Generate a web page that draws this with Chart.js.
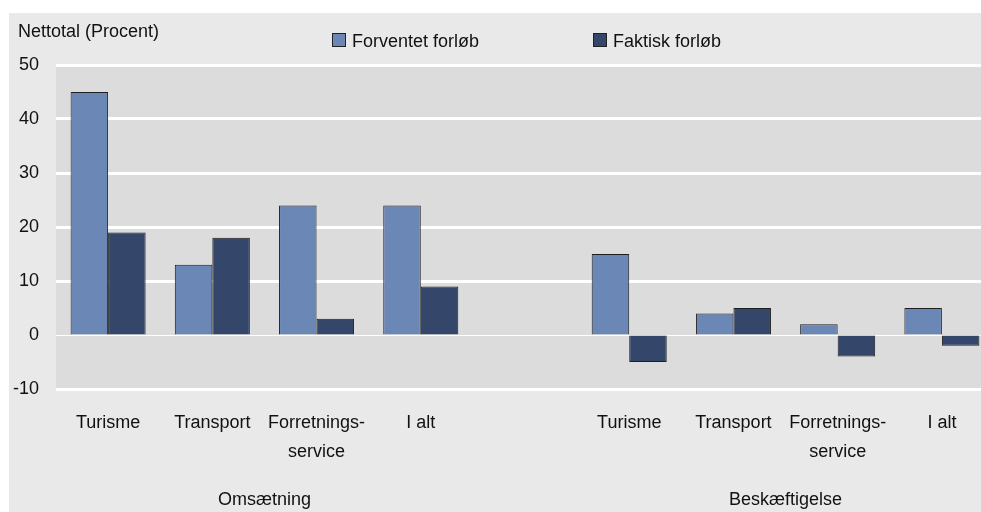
<!DOCTYPE html>
<html>
<head>
<meta charset="utf-8">
<script src="https://cdn.jsdelivr.net/npm/chart.js@4"></script>
<style>
  html, body { margin: 0; padding: 0; background: #fff; overflow: hidden; }
  #wrap { position: absolute; left: 0; top: 0; width: 1000px; height: 512px; }
</style>
</head>
<body>
<div id="wrap"><canvas id="chart"></canvas></div>
<script>
// kategorier (tom plads mellem de to grupper)
const categories = ['Turisme', 'Transport', ['Forretnings-', 'service'], 'I alt', '',
  'Turisme', 'Transport', ['Forretnings-', 'service'], 'I alt'];
const groups = ['Omsætning', 'Beskæftigelse'];
const forventet = [45, 13, 24, 24, null, 15, 4, 2, 5];
const faktisk = [19, 18, 3, 9, null, -5, 5, -4, -2];
const seriesNames = ['Forventet forløb', 'Faktisk forløb'];
const yTicks = [-10, 0, 10, 20, 30, 40, 50];

const FONT = '"Liberation Sans", Arial, sans-serif';
const colors = ['#6a87b5', '#34466a'];

// baggrund, titel, legende og gruppenavne
const decor = {
  id: 'decor',
  beforeDraw(chart) {
    const { ctx, chartArea: a } = chart;
    ctx.save();
    ctx.fillStyle = '#e9e9e9';
    ctx.fillRect(9, 13, chart.width, chart.height);
    ctx.fillStyle = '#dcdcdc';
    ctx.fillRect(a.left, a.top, a.right - a.left, a.bottom - a.top);
    ctx.restore();
  },
  afterDraw(chart) {
    const { ctx } = chart;
    const x = chart.scales.x;
    ctx.save();
    ctx.font = '18px ' + FONT;
    ctx.fillStyle = '#111';
    ctx.textBaseline = 'alphabetic';
    ctx.textAlign = 'left';
    ctx.fillText('Nettotal (Procent)', 18, 37);

    // legende
    const legendX = [332, 593];
    chart.data.datasets.forEach((ds, i) => {
      ctx.fillStyle = ds.backgroundColor;
      ctx.fillRect(legendX[i], 33, 14, 14);
      ctx.strokeStyle = '#222';
      ctx.lineWidth = 1;
      ctx.strokeRect(legendX[i] + 0.5, 33.5, 13, 13);
      ctx.fillStyle = '#111';
      ctx.fillText(ds.label, legendX[i] + 20, 47);
    });

    // gruppenavne
    ctx.textAlign = 'center';
    const c1 = (x.getPixelForValue(0) + x.getPixelForValue(3)) / 2;
    const c2 = (x.getPixelForValue(5) + x.getPixelForValue(8)) / 2;
    ctx.fillText(groups[0], c1, 505);
    ctx.fillText(groups[1], c2, 505);
    ctx.restore();
  }
};

new Chart(document.getElementById('chart'), {
  type: 'bar',
  data: {
    labels: categories,
    datasets: [
      { label: seriesNames[0], data: forventet, backgroundColor: colors[0] },
      { label: seriesNames[1], data: faktisk, backgroundColor: colors[1] }
    ]
  },
  options: {
    responsive: true,
    maintainAspectRatio: false,
    animation: false,
    categoryPercentage: 0.72,
    barPercentage: 1,
    borderWidth: 1,
    borderColor: '#1e1e1e',
    layout: { padding: { top: 65, right: 6, left: 0, bottom: 0 } },
    plugins: { legend: { display: false }, tooltip: { enabled: false } },
    scales: {
      y: {
        min: -10,
        max: 50,
        afterBuildTicks: s => { s.ticks = yTicks.map(v => ({ value: v })); },
        afterFit: s => { s.width = 56; },
        border: { display: false },
        grid: {
          color: '#ffffff',
          lineWidth: c => (c.tick && c.tick.value === 0 ? 1 : 3),
          drawTicks: false
        },
        ticks: { padding: 17, color: '#111', font: { family: FONT, size: 18 } }
      },
      x: {
        afterFit: s => { s.height = 123; },
        border: { display: false },
        grid: { display: false },
        ticks: {
          autoSkip: false,
          maxRotation: 0,
          padding: 12,
          color: '#111',
          font: { family: FONT, size: 18, lineHeight: 1.6 }
        }
      }
    }
  },
  plugins: [decor]
});
</script>
</body>
</html>
